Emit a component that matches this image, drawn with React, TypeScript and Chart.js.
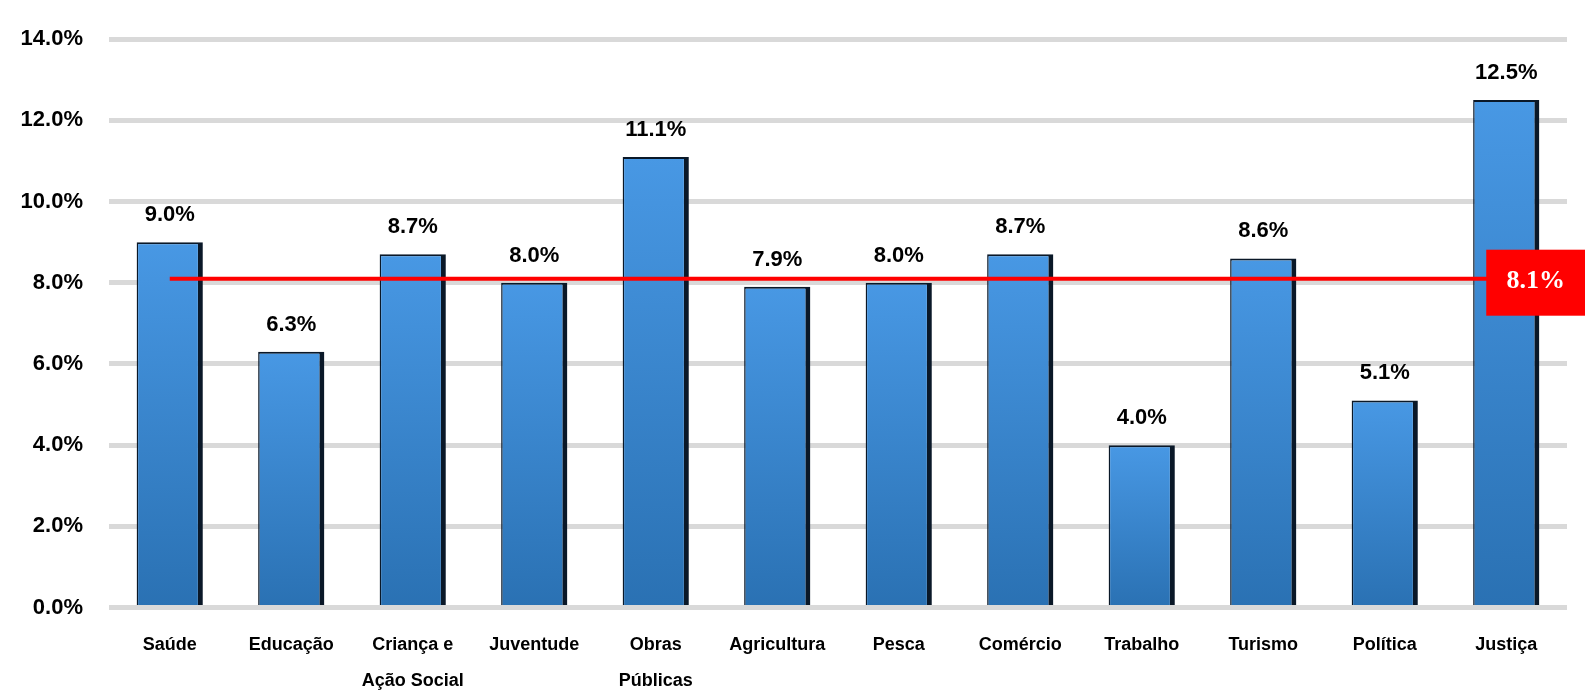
import { useEffect, useRef } from "react";
import Chart from "chart.js/auto";

// categories (two-line labels where the original wraps)
const categories = [
  ["Saúde"],
  ["Educação"],
  ["Criança e", "Ação Social"],
  ["Juventude"],
  ["Obras", "Públicas"],
  ["Agricultura"],
  ["Pesca"],
  ["Comércio"],
  ["Trabalho"],
  ["Turismo"],
  ["Política"],
  ["Justiça"],
];

// share per area, in percent
const shares = [9.0, 6.3, 8.7, 8.0, 11.1, 7.9, 8.0, 8.7, 4.0, 8.6, 5.1, 12.5];

// average line
const averageLine = [8.1, 8.1, 8.1, 8.1, 8.1, 8.1, 8.1, 8.1, 8.1, 8.1, 8.1, 8.1];
const averageLabel = "8.1%";

const yMin = 0;
const yMax = 14;
const yStep = 2;

const fmt = (v: number) => v.toFixed(1) + "%";

const labelsPlugin = {
  id: "barLabels",
  afterDatasetsDraw(chart: any) {
    const ctx = chart.ctx;
    const bars = chart.getDatasetMeta(0).data;
    ctx.save();
    ctx.font = "bold 22px 'Liberation Sans', Arial, sans-serif";
    ctx.fillStyle = "#000";
    ctx.textAlign = "center";
    ctx.textBaseline = "alphabetic";
    bars.forEach((bar: any, i: number) => {
      ctx.fillText(fmt(shares[i]), bar.x, bar.y - 21);
    });

    // red box with the average at the end of the line
    const pts = chart.getDatasetMeta(1).data;
    const last = pts[pts.length - 1];
    const left = last.x - 20;
    const top = last.y - 29;
    ctx.fillStyle = "#ff0000";
    ctx.fillRect(left, top, chart.width - left, 66);
    ctx.fillStyle = "#fff";
    ctx.font = "bold 26px 'Liberation Serif', 'Times New Roman', serif";
    ctx.textBaseline = "middle";
    ctx.fillText(averageLabel, (left + chart.width) / 2, top + 32);
    ctx.restore();
  },
};

export default function App() {
  const chartRef = useRef<HTMLCanvasElement>(null);
  const chartInstance = useRef<Chart | null>(null);

  useEffect(() => {
    document.body.style.margin = "0";
    if (!chartRef.current) return;
    if (chartInstance.current) chartInstance.current.destroy();

    const ctx = chartRef.current.getContext("2d");
    if (!ctx) return;

    chartInstance.current = new Chart(ctx, {
      type: "bar",
      data: {
        labels: categories,
        datasets: [
          {
            type: "bar",
            data: shares,
            order: 1,
            backgroundColor: (c: any) => {
              const chart = c.chart;
              const y = chart.scales.y;
              if (!chart.chartArea || !y || c.type !== "data") return "#3a8ad6";
              const top = y.getPixelForValue(c.raw as number);
              const bottom = y.getPixelForValue(0);
              const g = chart.ctx.createLinearGradient(0, top, 0, bottom);
              g.addColorStop(0, "#4898e4");
              g.addColorStop(1, "#2a71b3");
              return g;
            },
            borderColor: "#0a1828",
            borderWidth: { top: 2, left: 1.5, right: 5, bottom: 0 },
            borderSkipped: "bottom",
            barPercentage: 0.545,
            categoryPercentage: 1,
          },
          {
            type: "line",
            data: averageLine,
            order: 0,
            borderColor: "#ff0000",
            borderWidth: 4,
            pointRadius: 0,
            fill: false,
          },
        ],
      },
      options: {
        responsive: true,
        maintainAspectRatio: false,
        animation: false,
        layout: { padding: { top: 30, right: 18, bottom: 0, left: 0 } },
        plugins: {
          legend: { display: false },
          tooltip: { enabled: false },
        },
        scales: {
          x: {
            grid: { display: false },
            border: { display: false },
            ticks: {
              color: "#000",
              font: { family: "'Liberation Sans', Arial, sans-serif", size: 18, weight: "bold", lineHeight: 2 },
              padding: 12,
              maxRotation: 0,
              autoSkip: false,
            },
            afterFit: (scale: any) => {
              scale.height = 82.5;
            },
          },
          y: {
            min: yMin,
            max: yMax,
            grid: { color: "#d9d9d9", lineWidth: 5, drawTicks: false },
            border: { display: false },
            ticks: {
              stepSize: yStep,
              color: "#000",
              font: { family: "'Liberation Sans', Arial, sans-serif", size: 22, weight: "bold" },
              padding: 26,
              callback: (v: any) => fmt(Number(v)),
            },
            afterFit: (scale: any) => {
              scale.width = 109;
            },
          },
        },
      },
      plugins: [labelsPlugin],
    });

    return () => {
      if (chartInstance.current) {
        chartInstance.current.destroy();
        chartInstance.current = null;
      }
    };
  }, []);

  return (
    <div style={{ position: "relative", width: 1585, height: 690, background: "#fff" }}>
      <canvas ref={chartRef}></canvas>
    </div>
  );
}
